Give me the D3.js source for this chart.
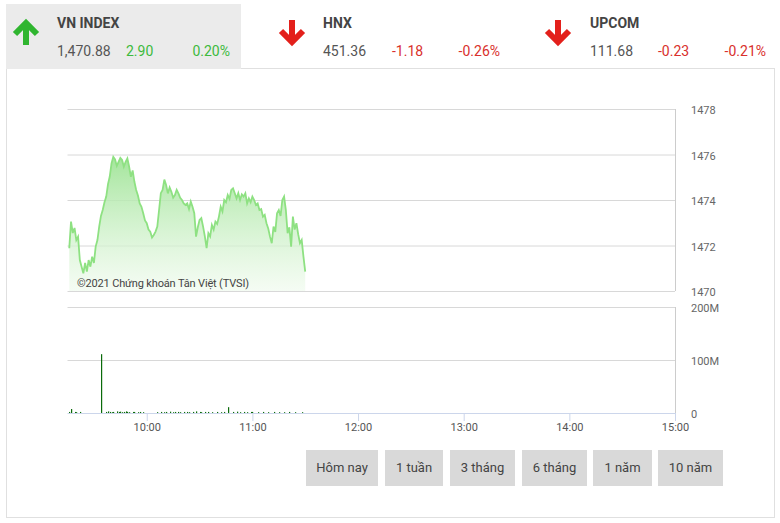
<!DOCTYPE html>
<html><head><meta charset="utf-8">
<script src="https://cdn.jsdelivr.net/npm/d3@7"></script>
<style>body{margin:0;background:#fff;font-family:Roboto,"Noto Sans",sans-serif}</style>
</head><body><svg id="c" width="780" height="523"></svg>
<script>
// ---------- data ----------
const indexNames = ["VN INDEX", "HNX", "UPCOM"];
const indexValues = ["1,470.88", "451.36", "111.68"];
const indexChanges = ["2.90", "-1.18", "-0.23"];
const indexPercents = ["0.20%", "-0.26%", "-0.21%"];
const indexUp = [true, false, false];

const priceTimes = [
 "09:16","09:17","09:18","09:19","09:20","09:21","09:22","09:23","09:24","09:25","09:26","09:27","09:28","09:29","09:30",
 "09:31","09:32","09:33","09:34","09:35","09:36","09:37","09:38","09:39","09:40","09:41","09:42","09:43","09:44","09:45",
 "09:46","09:47","09:48","09:49","09:50","09:51","09:52","09:53","09:54","09:55","09:56","09:57","09:58","09:59","10:00",
 "10:01","10:02","10:03","10:04","10:05","10:06","10:07","10:08","10:09","10:10","10:11","10:12","10:13","10:14","10:15",
 "10:16","10:17","10:18","10:19","10:20","10:21","10:22","10:23","10:24","10:25","10:26","10:27","10:28","10:29","10:30",
 "10:31","10:32","10:33","10:34","10:35","10:36","10:37","10:38","10:39","10:40","10:41","10:42","10:43","10:44","10:45",
 "10:46","10:47","10:48","10:49","10:50","10:51","10:52","10:53","10:54","10:55","10:56","10:57","10:58","10:59","11:00",
 "11:01","11:02","11:03","11:04","11:05","11:06","11:07","11:08","11:09","11:10","11:11","11:12","11:13","11:14","11:15",
 "11:16","11:17","11:18","11:19","11:20","11:21","11:22","11:23","11:24","11:25","11:26","11:27","11:28","11:29","11:30"];
const priceValues = [
 1471.88,1473.05,1472.55,1472.77,1472.24,1472.39,1471.36,1471.07,1470.78,1471.23,1470.85,1471.36,1471.07,1471.51,1471.23,
 1471.95,1472.24,1472.83,1473.30,1473.56,1473.90,1474.15,1474.70,1475.03,1475.61,1475.90,1475.79,1475.50,1475.68,1475.85,
 1475.76,1475.46,1475.68,1475.83,1475.46,1475.02,1475.30,1474.80,1474.44,1474.20,1473.85,1473.70,1473.42,1473.10,1472.98,
 1472.70,1472.61,1472.35,1472.46,1472.61,1472.83,1473.56,1474.30,1474.44,1474.90,1474.66,1474.29,1474.55,1474.36,1474.10,
 1474.22,1474.45,1474.29,1474.10,1474.00,1473.85,1473.78,1473.85,1473.60,1473.93,1473.70,1473.42,1472.39,1472.80,1473.12,
 1473.20,1472.83,1472.40,1471.88,1472.54,1472.40,1472.90,1472.70,1473.05,1472.95,1473.27,1473.71,1473.50,1474.00,1473.90,
 1474.22,1474.05,1474.44,1474.51,1474.30,1474.07,1474.30,1474.00,1474.25,1474.15,1474.30,1473.85,1474.07,1473.90,1474.15,
 1474.00,1473.78,1473.85,1473.56,1473.60,1473.27,1473.35,1472.98,1472.75,1472.39,1472.10,1472.83,1472.60,1473.42,1473.56,
 1473.30,1474.00,1474.15,1473.56,1472.54,1472.80,1471.95,1473.27,1472.70,1472.98,1472.50,1472.10,1472.24,1471.51,1470.85];

const volTimes = ["09:16","09:17","09:19","09:20","09:22","09:34","09:37","09:38","09:39","09:40","09:41","09:43","09:44","09:45","09:46","09:47","09:48","09:49","09:50","09:52","09:53","09:55","09:56","09:58","10:06","10:08","10:10","10:11","10:13","10:15","10:16","10:18","10:19","10:21","10:23","10:24","10:26","10:28","10:30","10:31","10:33","10:35","10:37","10:40","10:42","10:44","10:46","10:49","10:51","10:53","10:55","10:57","10:59","11:00","11:03","11:06","11:09","11:12","11:15","11:18","11:21","11:24","11:28"];
const volValues = [2,7.5,2,1.5,2,111,2,3,2,1.5,2,3,2,2.5,1.5,2,3,2,1.5,2,2,1.5,2,1.5,1.5,2,1.5,2,2.5,1.5,2,2,1.5,2,2,1.5,2,3,2,1.5,2,2,1.5,2,1.5,2,11,2,2.5,1.5,2,1.5,2,2,1.5,2,1.5,2,1.5,1.5,2,1.5,1.5];

const priceTicks = [1470, 1472, 1474, 1476, 1478];
const volTicks = [0, 100, 200];
const timeTicks = ["10:00","11:00","12:00","13:00","14:00","15:00"];
const buttonLabels = ["Hôm nay", "1 tuần", "3 tháng", "6 tháng", "1 năm", "10 năm"];

// ---------- setup ----------
const svg = d3.select("#c");
const parse = d3.timeParse("%H:%M");
const green = "#2fb52f", red = "#e3201b";

// panel
svg.append("rect").attr("x", 6.5).attr("y", 68.5).attr("width", 768).attr("height", 449)
  .attr("fill", "none").attr("stroke", "#e0e0e0");
// header highlight
svg.append("rect").attr("x", 6).attr("y", 4).attr("width", 235).attr("height", 65).attr("fill", "#ebebeb");

const blockX = [57, 323, 590];
const changeX = [126, 392, 658];
const pctX = [230, 500, 766];
const arrowX = [26, 292, 558];
indexNames.forEach((n, i) => {
  const g = svg.append("g");
  const c = indexUp[i] ? green : red;
  const tc = indexUp[i] ? "#3dba3d" : "#d9302c";
  g.append("text").attr("x", blockX[i]).attr("y", 28).text(n)
    .attr("font-size", 14).attr("font-weight", "bold").attr("fill", "#444");
  g.append("text").attr("x", blockX[i]).attr("y", 56).text(indexValues[i])
    .attr("font-size", 14).attr("fill", "#555");
  g.append("text").attr("x", changeX[i]).attr("y", 56).text(indexChanges[i])
    .attr("font-size", 14).attr("fill", tc);
  g.append("text").attr("x", pctX[i]).attr("y", 56).attr("text-anchor", "end").text(indexPercents[i])
    .attr("font-size", 14).attr("fill", tc);
  const ax = arrowX[i];
  const p = indexUp[i]
    ? `M${ax-11},${34} L${ax},${23} L${ax+11},${34} M${ax},${24} L${ax},${45}`
    : `M${ax-11},${31} L${ax},${42} L${ax+11},${31} M${ax},${41} L${ax},${20}`;
  g.append("path").attr("d", p).attr("fill", "none").attr("stroke", c)
    .attr("stroke-width", 6).attr("stroke-linejoin", "miter").attr("stroke-linecap", "butt");
});

// scales
const x = d3.scaleTime().domain([parse("09:15"), parse("15:00")]).range([67.5, 675]);
const yP = d3.scaleLinear().domain([1470, 1478]).range([291, 109]);
const yV = d3.scaleLinear().domain([0, 200]).range([413, 307]);

// price gridlines
svg.append("g").attr("transform", "translate(675,0)")
  .call(d3.axisRight(yP).tickValues(priceTicks).tickSize(-607.5).tickFormat(d3.format("d")).tickPadding(16))
  .call(g => {
    g.select(".domain").attr("stroke", "#cccccc").attr("d", "M0.5,109V291");
    g.selectAll(".tick line").attr("stroke", "#d8d8d8");
    g.selectAll(".tick text").attr("fill", "#666").attr("font-size", 11).attr("font-family", "Roboto").attr("text-anchor", "start").attr("dy", "0.45em");
  });

// price area
const pdata = priceTimes.map((t, i) => ({t: parse(t), v: priceValues[i]}));
const defs = svg.append("defs");
const grad = defs.append("linearGradient").attr("id", "pg").attr("x1", 0).attr("x2", 0)
  .attr("gradientUnits", "userSpaceOnUse").attr("y1", yP(1476)).attr("y2", yP(1470));
grad.append("stop").attr("offset", 0).attr("stop-color", "#9de394").attr("stop-opacity", 0.95);
grad.append("stop").attr("offset", 1).attr("stop-color", "#eefaec").attr("stop-opacity", 0.6);
svg.append("path").datum(pdata)
  .attr("d", d3.area().x(d => x(d.t)).y0(yP(1470)).y1(d => yP(d.v)))
  .attr("fill", "url(#pg)");
svg.append("path").datum(pdata)
  .attr("d", d3.line().x(d => x(d.t)).y(d => yP(d.v)))
  .attr("fill", "none").attr("stroke", "#8ee182").attr("stroke-width", 1.8);

svg.append("text").attr("x", 77).attr("y", 287).text("©2021 Chứng khoán Tân Việt (TVSI)")
  .attr("font-size", 11).attr("letter-spacing", "-0.15").attr("fill", "#444");

// volume gridlines
svg.append("g").attr("transform", "translate(675,0)")
  .call(d3.axisRight(yV).tickValues(volTicks).tickSize(-607.5).tickFormat(d => d === 0 ? "0" : d + "M").tickPadding(16))
  .call(g => {
    g.select(".domain").attr("stroke", "#cccccc").attr("d", "M0.5,307V413");
    g.selectAll(".tick line").attr("stroke", d => d === 0 ? "none" : "#d8d8d8");
    g.selectAll(".tick text").attr("fill", "#666").attr("font-size", 11).attr("font-family", "Roboto").attr("text-anchor", "start").attr("dy", "0.45em");
  });

// volume bars
svg.append("g").selectAll("rect").data(volTimes.map((t, i) => ({t: parse(t), v: volValues[i]})))
  .join("rect")
  .attr("x", d => Math.round(x(d.t)))
  .attr("width", 1.2)
  .attr("y", d => yV(d.v))
  .attr("height", d => yV(0) - yV(d.v))
  .attr("fill", "#0b6b0b");

// time axis
svg.append("g").attr("transform", "translate(0,413)")
  .call(d3.axisBottom(x).tickValues(timeTicks.map(parse)).tickSize(8).tickFormat(d3.timeFormat("%H:%M")).tickPadding(2))
  .call(g => {
    g.select(".domain").attr("stroke", "#ccd6eb").attr("d", "M67.5,0.5H675");
    g.selectAll(".tick line").attr("stroke", "#ccd6eb");
    g.selectAll(".tick text").attr("fill", "#555").attr("font-size", 11).attr("font-family", "Roboto");
  });

// buttons
const btnX = [306, 385, 450, 522, 593, 658];
const btnW = [72, 58, 65, 65, 59, 65];
const bg = svg.append("g");
buttonLabels.forEach((b, i) => {
  bg.append("rect").attr("x", btnX[i]).attr("y", 450).attr("width", btnW[i]).attr("height", 36).attr("fill", "#d9d9d9");
  bg.append("text").attr("x", btnX[i] + btnW[i] / 2).attr("y", 472).attr("text-anchor", "middle")
    .text(b).attr("font-size", 13).attr("fill", "#444");
});
</script></body></html>
